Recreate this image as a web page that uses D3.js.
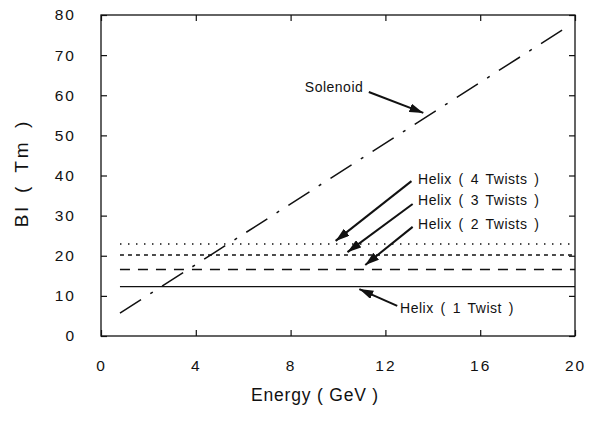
<!DOCTYPE html>
<html>
<head>
<meta charset="utf-8">
<script src="https://cdn.jsdelivr.net/npm/d3@7"></script>
<style>
  body { margin: 0; background: #fff; }
  text { font-family: "Liberation Sans", Arial, sans-serif; fill: #111; }
</style>
</head>
<body>
<svg id="vis" width="598" height="423"></svg>
<script>
// data
const xTicks = [0, 4, 8, 12, 16, 20]
const yTicks = [0, 10, 20, 30, 40, 50, 60, 70, 80]
const solenoidEnergy = [0.8, 19.6]
const solenoidBl = [5.7, 76.8]
const helixNames = ["Helix ( 1 Twist )", "Helix ( 2 Twists )", "Helix ( 3 Twists )", "Helix ( 4 Twists )"]
const helixBl = [12.3, 16.6, 20.2, 22.9]
const helixEnergy = [0.8, 20]
const helixDash = [null, "10,8", "4,4", "1.5,6.5"]

// label anchor + arrow tail + arrow tip, in data units
const notes = [
  {text: "Solenoid",           at: [8.6, 60.8],   from: [11.3, 60.8], to: [13.6, 55.6]},
  {text: helixNames[3],        at: [13.38, 37.9], from: [13.1, 38.6], to: [9.9, 23.7]},
  {text: helixNames[2],        at: [13.38, 32.6], from: [13.15, 32.9], to: [10.4, 20.9]},
  {text: helixNames[1],        at: [13.38, 26.7], from: [13.15, 27.2], to: [11.15, 17.7]},
  {text: helixNames[0],        at: [12.62, 5.7],  from: [12.5, 7.5],  to: [10.9, 11.7]}
]

const svg = d3.select("#vis")
const margin = {top: 15, right: 23, bottom: 87, left: 101}
const width = 598 - margin.left - margin.right
const height = 423 - margin.top - margin.bottom

const chart = svg.append("g")
  .attr("transform", `translate(${margin.left},${margin.top})`)

const x = d3.scaleLinear().domain([0, 20]).range([0, width])
const y = d3.scaleLinear().domain([0, 80]).range([height, 0])

// frame
chart.append("rect")
  .attr("width", width).attr("height", height)
  .attr("fill", "none").attr("stroke", "#111").attr("stroke-width", 1.3)

// axes, ticks inward
const tk = 6
chart.append("g").attr("transform", `translate(0,${height})`)
  .call(d3.axisBottom(x).tickValues(xTicks).tickSize(-tk).tickPadding(24))
chart.append("g")
  .call(d3.axisTop(x).tickValues(xTicks).tickSize(-tk).tickFormat(""))
chart.append("g")
  .call(d3.axisLeft(y).tickValues(yTicks).tickSize(-tk).tickPadding(25))
chart.append("g").attr("transform", `translate(${width},0)`)
  .call(d3.axisRight(y).tickValues(yTicks).tickSize(-tk).tickFormat(""))

chart.selectAll(".domain").remove()
chart.selectAll(".tick line").attr("stroke", "#111").attr("stroke-width", 1.2)
chart.selectAll(".tick text")
  .style("font-family", "'Liberation Sans', Arial, sans-serif")
  .style("font-size", "15.5px")
  .style("letter-spacing", "2px")
  .attr("fill", "#111")

// axis titles
svg.append("text")
  .attr("x", 315).attr("y", 401)
  .attr("text-anchor", "middle")
  .style("font-size", "17.5px").style("letter-spacing", "0.8px")
  .text("Energy ( GeV )")

svg.append("text")
  .attr("transform", `translate(28,173) rotate(-90)`)
  .attr("text-anchor", "middle")
  .style("font-size", "19px").style("letter-spacing", "3px")
  .style("word-spacing", "3px")
  .text("Bl ( Tm )")

// solenoid line
const line = d3.line().x(d => x(d[0])).y(d => y(d[1]))
chart.append("path")
  .datum(d3.zip(solenoidEnergy, solenoidBl))
  .attr("d", line)
  .attr("fill", "none").attr("stroke", "#111").attr("stroke-width", 1.5)
  .attr("stroke-dasharray", "25,11,3,11")

// helix lines
helixBl.forEach((v, i) => {
  chart.append("path")
    .datum(helixEnergy.map(e => [e, v]))
    .attr("d", line)
    .attr("fill", "none").attr("stroke", "#111")
    .attr("stroke-width", i === 0 ? 1.2 : 1.5)
    .attr("stroke-dasharray", helixDash[i])
})

// arrowhead
svg.append("defs").append("marker")
  .attr("id", "head")
  .attr("viewBox", "0 0 14 9")
  .attr("refX", 14).attr("refY", 4.5)
  .attr("markerWidth", 14).attr("markerHeight", 9)
  .attr("markerUnits", "userSpaceOnUse")
  .attr("orient", "auto")
  .append("path").attr("d", "M0,0 L14,4.5 L0,9 Z").attr("fill", "#111")

const ann = chart.selectAll(".note").data(notes).join("g").attr("class", "note")
ann.append("line")
  .attr("x1", d => x(d.from[0])).attr("y1", d => y(d.from[1]))
  .attr("x2", d => x(d.to[0])).attr("y2", d => y(d.to[1]))
  .attr("stroke", "#111").attr("stroke-width", 2)
  .attr("marker-end", "url(#head)")
ann.append("text")
  .attr("x", d => x(d.at[0])).attr("y", d => y(d.at[1]))
  .style("font-size", "14px").style("letter-spacing", "0.5px")
  .style("word-spacing", "2.5px")
  .text(d => d.text)
</script>
</body>
</html>
